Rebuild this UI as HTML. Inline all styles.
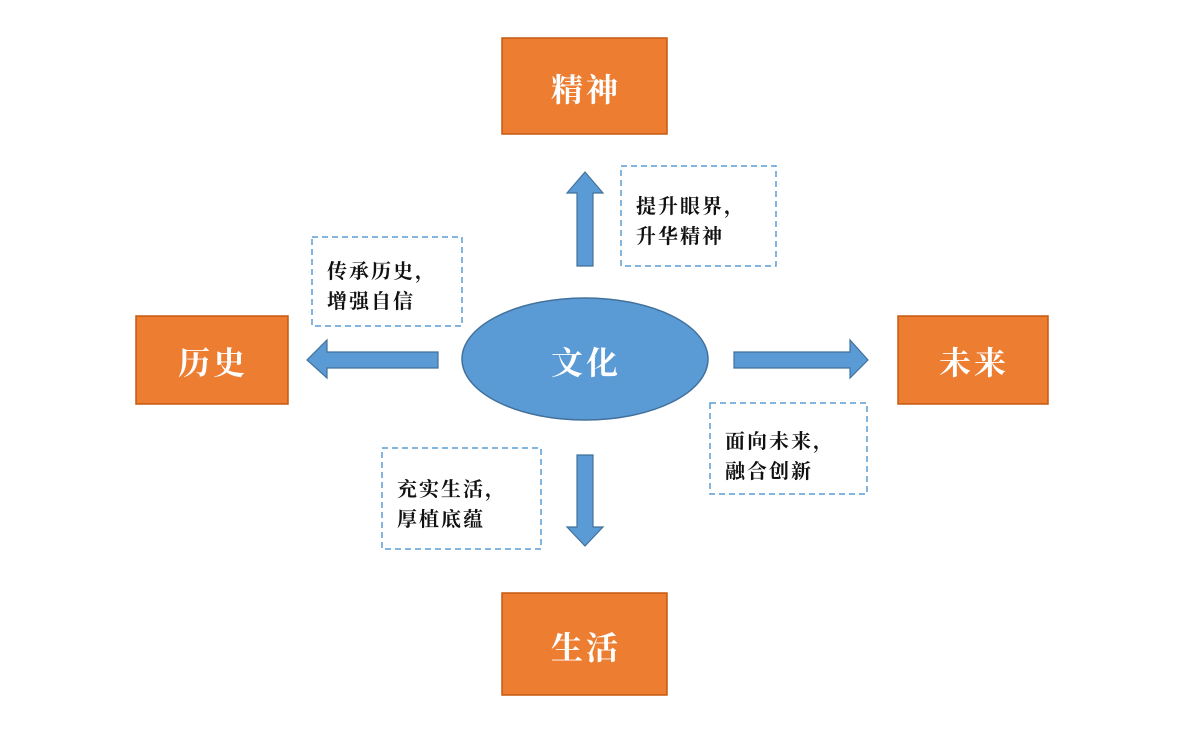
<!DOCTYPE html>
<html><head><meta charset="utf-8"><style>
html,body{margin:0;padding:0;background:#fff;width:1200px;height:752px;overflow:hidden}
text{font-family:"Noto Serif CJK SC",serif;font-weight:bold}
</style></head><body>
<svg width="1200" height="752" viewBox="0 0 1200 752" xmlns="http://www.w3.org/2000/svg">
<g fill="#ED7D31" stroke="#C55A11" stroke-width="1.5">
<rect x="502" y="38" width="165" height="96"/>
<rect x="136" y="316" width="152" height="88"/>
<rect x="898" y="316" width="150" height="88"/>
<rect x="502" y="593" width="165" height="102"/>
</g>
<g fill="#fff" font-size="32" text-anchor="middle" letter-spacing="3">
<text x="586" y="101">精神</text>
<text x="213" y="374">历史</text>
<text x="974" y="374">未来</text>
<text x="586" y="659">生活</text>
</g>
<ellipse cx="585" cy="359" rx="123" ry="61" fill="#5B9BD5" stroke="#41719C" stroke-width="1.5"/>
<text x="586" y="374" fill="#fff" font-size="32" text-anchor="middle" letter-spacing="3">文化</text>
<g fill="#5B9BD5" stroke="#41719C" stroke-width="1.2">
<polygon points="577,266 577,193 567,193 585,172 603,193 593,193 593,266"/>
<polygon points="577,455 577,527 567,527 585,546 603,527 593,527 593,455"/>
<polygon points="438,352 327,352 327,340 307,360 327,378 327,368 438,368"/>
<polygon points="734,352 850,352 850,340 868,360 850,378 850,368 734,368"/>
</g>
<g fill="none" stroke="#5B9BD5" stroke-width="1.5" stroke-dasharray="6,4">
<rect x="621" y="166" width="155" height="100"/>
<rect x="312" y="237" width="150" height="89"/>
<rect x="710" y="403" width="157" height="91"/>
<rect x="382" y="448" width="159" height="101"/>
</g>
<g fill="#111" font-size="20" letter-spacing="2">
<text x="636" y="213">提升眼界，</text>
<text x="636" y="243">升华精神</text>
<text x="327" y="278">传承历史，</text>
<text x="327" y="308">增强自信</text>
<text x="725" y="448">面向未来，</text>
<text x="725" y="478">融合创新</text>
<text x="397" y="496">充实生活，</text>
<text x="397" y="526">厚植底蕴</text>
</g>
</svg>
</body></html>
